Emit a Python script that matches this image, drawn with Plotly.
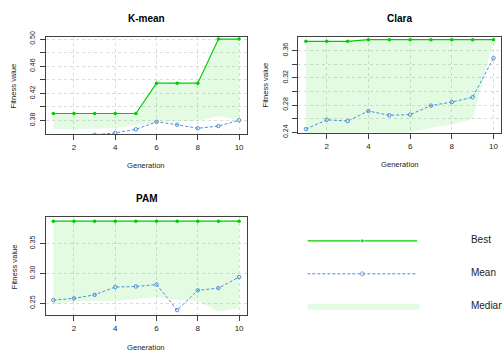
import plotly.graph_objects as go

generation = [1, 2, 3, 4, 5, 6, 7, 8, 9, 10]

kmean_best = [0.3904, 0.3904, 0.3904, 0.3904, 0.3904, 0.435, 0.435, 0.435, 0.50, 0.50]
kmean_mean = [0.345, 0.350, 0.359, 0.3619, 0.3671, 0.3781, 0.3739, 0.3686, 0.3719, 0.3804]
kmean_median = [0.3676, 0.3676, 0.3678, 0.369, 0.3733, 0.378, 0.3785, 0.3796, 0.3867, 0.3804]

clara_best = [0.3737, 0.3737, 0.3737, 0.3761, 0.3761, 0.3761, 0.3761, 0.3761, 0.3761, 0.3761]
clara_mean = [0.2447, 0.2584, 0.2565, 0.2712, 0.265, 0.266, 0.2792, 0.2844, 0.2915, 0.349]
clara_median = [0.236, 0.237, 0.238, 0.2405, 0.238, 0.240, 0.2466, 0.2514, 0.2594, 0.373]

pam_best = [0.3873] * 10
pam_mean = [0.2553, 0.2581, 0.2641, 0.2771, 0.2780, 0.2813, 0.2386, 0.2716, 0.2754, 0.2938]
pam_median = [0.2478, 0.2532, 0.2538, 0.2543, 0.2565, 0.2608, 0.2560, 0.2543, 0.2359, 0.2423]

titles = ["K-mean", "Clara", "PAM"]
legend_labels = ["Best", "Mean", "Median"]

kmean_ticks = [0.38, 0.40, 0.42, 0.44, 0.46, 0.48, 0.50]
kmean_ticktext = ["0.38", "", "0.42", "", "0.46", "", "0.50"]
clara_ticks = [0.24, 0.26, 0.28, 0.30, 0.32, 0.34, 0.36]
clara_ticktext = ["0.24", "", "0.28", "", "0.32", "", "0.36"]
pam_ticks = [0.25, 0.30, 0.35]
pam_ticktext = ["0.25", "0.30", "0.35"]
x_ticks = [2, 4, 6, 8, 10]

GREEN = "#00CD00"
BLUE = "#4A90DA"
FILL = "rgba(0,205,0,0.11)"
W, H = 502, 358
FONT = "Liberation Sans, Arial, sans-serif"

panels = [
    dict(title=titles[0], best=kmean_best, mean=kmean_mean, median=kmean_median,
         ticks=kmean_ticks, ticktext=kmean_ticktext, yr=[0.3603, 0.503],
         px=(46, 247), py=(32, 132)),
    dict(title=titles[1], best=clara_best, mean=clara_mean, median=clara_median,
         ticks=clara_ticks, ticktext=clara_ticktext, yr=[0.239, 0.380],
         px=(299, 502), py=(32, 131)),
    dict(title=titles[2], best=pam_best, mean=pam_mean, median=pam_median,
         ticks=pam_ticks, ticktext=pam_ticktext, yr=[0.230, 0.3938],
         px=(46, 247), py=(218, 319)),
]

fig = go.Figure()
annotations = []
layout = {}
for i, p in enumerate(panels, start=1):
    xa = "x" if i == 1 else f"x{i}"
    ya = "y" if i == 1 else f"y{i}"
    fig.add_trace(go.Scatter(x=generation, y=p["median"], mode="lines",
                             line=dict(width=0, color=FILL), xaxis=xa, yaxis=ya,
                             showlegend=False, hoverinfo="skip"))
    fig.add_trace(go.Scatter(x=generation, y=p["best"], mode="lines", fill="tonexty",
                             fillcolor=FILL, line=dict(width=0), xaxis=xa, yaxis=ya,
                             showlegend=False, hoverinfo="skip"))
    fig.add_trace(go.Scatter(x=generation, y=p["best"], mode="lines+markers",
                             line=dict(color=GREEN, width=1.2),
                             marker=dict(color=GREEN, size=3.5, symbol="circle"),
                             xaxis=xa, yaxis=ya, showlegend=False, cliponaxis=True))
    fig.add_trace(go.Scatter(x=generation, y=p["mean"], mode="lines+markers",
                             line=dict(color=BLUE, width=1, dash="3px,2px"),
                             marker=dict(color=BLUE, size=3.5, symbol="circle-open",
                                         line=dict(width=1, color=BLUE)),
                             xaxis=xa, yaxis=ya, showlegend=False, cliponaxis=True))
    x0, x1 = p["px"]
    y0, y1 = p["py"]
    axis_common = dict(showline=True, mirror=True, linecolor="#404040", linewidth=1,
                       ticks="outside", ticklen=5, tickcolor="#404040",
                       showgrid=True, gridcolor="#dcdcdc", griddash="dot", gridwidth=1,
                       zeroline=False)
    layout["xaxis" if i == 1 else f"xaxis{i}"] = dict(
        axis_common, domain=[x0 / W, x1 / W], range=[0.64, 10.36],
        tickvals=x_ticks, anchor=ya,
        tickfont=dict(family=FONT, size=8, color="#1a1a1a"))
    layout["yaxis" if i == 1 else f"yaxis{i}"] = dict(
        axis_common, domain=[1 - y1 / H, 1 - y0 / H], range=p["yr"],
        tickvals=p["ticks"], ticktext=p["ticktext"], tickangle=-90, anchor=xa,
        ticklabelstandoff=2,
        tickfont=dict(family=FONT, size=7, color="#1a1a1a"))
    cx = (x0 + x1) / 2
    annotations.append(dict(text="<b>" + p["title"] + "</b>", x=cx / W, y=1 - (y0 - 19) / H,
                            xref="paper", yref="paper", showarrow=False,
                            font=dict(family=FONT, size=10, color="#000"),
                            xanchor="center", yanchor="middle"))
    annotations.append(dict(text="Generation", x=cx / W, y=1 - (y1 + 33) / H,
                            xref="paper", yref="paper", showarrow=False,
                            font=dict(family=FONT, size=7.6, color="#222"),
                            xanchor="center", yanchor="middle"))
    annotations.append(dict(text="Fitness value", x=(x0 - 32) / W, y=1 - ((y0 + y1) / 2) / H,
                            xref="paper", yref="paper", showarrow=False, textangle=-90,
                            font=dict(family=FONT, size=7.6, color="#222"),
                            xanchor="center", yanchor="middle"))

# legend panel drawn on its own hidden axes
leg_y = [3, 2, 1]
fig.add_trace(go.Scatter(x=[0, 0.5, 1], y=[leg_y[0]] * 3, mode="lines+markers",
                         line=dict(color=GREEN, width=1.2),
                         marker=dict(color=GREEN, size=[0, 4, 0]),
                         xaxis="x4", yaxis="y4", showlegend=False))
fig.add_trace(go.Scatter(x=[0, 0.5, 1], y=[leg_y[1]] * 3, mode="lines+markers",
                         line=dict(color=BLUE, width=1, dash="3px,2px"),
                         marker=dict(color=BLUE, size=[0, 4, 0], symbol="circle-open",
                                     line=dict(width=1, color=BLUE)),
                         xaxis="x4", yaxis="y4", showlegend=False))
fig.add_trace(go.Scatter(x=[-0.02, 1.02], y=[leg_y[2]] * 2, mode="lines",
                         line=dict(color="rgba(0,205,0,0.11)", width=6),
                         xaxis="x4", yaxis="y4", showlegend=False))
fig.add_trace(go.Scatter(x=[1.49] * 3, y=leg_y, mode="text", text=legend_labels,
                         textposition="middle right",
                         textfont=dict(family=FONT, size=10, color="#222"),
                         xaxis="x4", yaxis="y4", showlegend=False, cliponaxis=False))
layout["xaxis4"] = dict(domain=[308 / W, 1.0], range=[0, (502 - 308) / 110], visible=False,
                        anchor="y4")
layout["yaxis4"] = dict(domain=[1 - 327.3 / H, 1 - 225.3 / H], range=[0.5, 3.5],
                        visible=False, anchor="x4")

fig.update_layout(**layout)
fig.update_layout(width=W, height=H, margin=dict(l=0, r=0, t=0, b=0),
                  paper_bgcolor="white", plot_bgcolor="white",
                  annotations=annotations, showlegend=False,
                  font=dict(family=FONT))
fig.write_html("out.html", config={"displayModeBar": False},
               post_script="document.body.style.margin='0';document.body.style.overflow='hidden';")
